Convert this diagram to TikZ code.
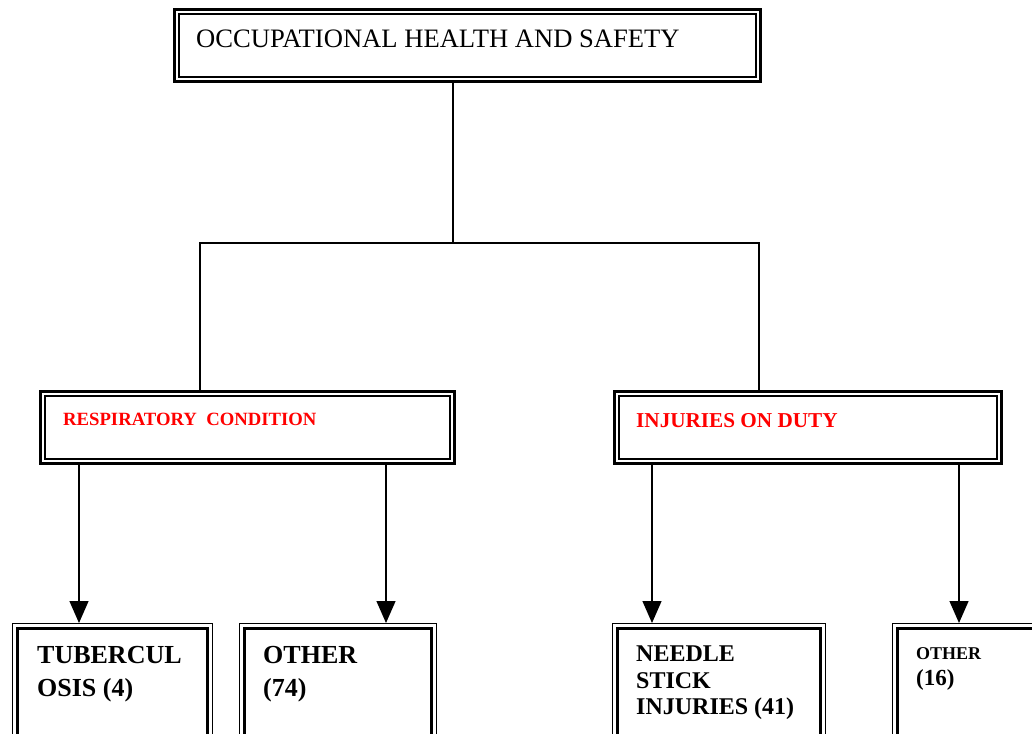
\documentclass[tikz,border=0pt]{standalone}
\usepackage{fontspec}
\setmainfont{Liberation Serif}
\usetikzlibrary{arrows.meta}

\begin{document}
\begin{tikzpicture}[x=1pt,y=-1pt,>={Triangle[width=19pt,length=22pt]},
        boxA/.style={draw,line width=3pt,inner sep=0pt,anchor=north west,
            path picture={\draw[line width=1.8pt] ([xshift=4.6pt,yshift=-4.6pt]path picture bounding box.north west) rectangle ([xshift=-4.6pt,yshift=4.6pt]path picture bounding box.south east);}},
        boxB/.style={draw,line width=1.4pt,inner sep=0pt,anchor=north west,
            path picture={\draw[line width=3pt] ([xshift=5pt,yshift=-5pt]path picture bounding box.north west) rectangle ([xshift=-5pt,yshift=5pt]path picture bounding box.south east);}},
        txt/.style={anchor=north west,inner sep=0pt,align=left}]
                \useasboundingbox (0,0) rectangle (1032,733);
                \clip (0,0) rectangle (1032,733);
                % boxes
                \node[boxA,minimum width=586pt,minimum height=72pt] (ohs) at (173,8) {};
                \node[boxA,minimum width=414pt,minimum height=72pt] (resp) at (39,390) {};
                \node[boxA,minimum width=387pt,minimum height=72pt] (iod) at (613,390) {};
                \node[boxB,minimum width=200pt,minimum height=120pt] (tb) at (12,623) {};
                \node[boxB,minimum width=197pt,minimum height=120pt] (oth1) at (239,623) {};
                \node[boxB,minimum width=213pt,minimum height=120pt] (nsi) at (612,623) {};
                \node[boxB,minimum width=160pt,minimum height=120pt] (oth2) at (892,623) {};
                % texts
                \node[txt,font=\fontsize{26.6}{30}\selectfont] (tohs) at (196,30) {OCCUPATIONAL HEALTH AND SAFETY};
                \node[txt,red,font=\bfseries\fontsize{18.7}{22}\selectfont] (tresp) at (63,413) {RESPIRATORY\ \ CONDITION};
                \node[txt,red,font=\bfseries\fontsize{21.2}{24}\selectfont] (tiod) at (636,413) {INJURIES ON DUTY};
                \node[txt,font=\bfseries\fontsize{26}{33}\selectfont] (ttb) at (37,646) {TUBERCUL\\OSIS (4)};
                \node[txt,font=\bfseries\fontsize{26}{33}\selectfont] (toth1) at (263,646) {OTHER\\(74)};
                \node[txt,font=\bfseries\fontsize{24}{26.5}\selectfont] (tnsi) at (636,646) {NEEDLE\\STICK\\INJURIES (41)};
                \node[txt,font=\bfseries\fontsize{18}{26}\selectfont] (toth2) at (916,647) {OTHER\\\fontsize{23}{26}\selectfont(16)};
                % connectors
                \coordinate (hub) at (453,243);
                \coordinate (jL) at (200,243);
                \coordinate (jR) at (759,243);
                \coordinate (xa) at (79,0);
                \coordinate (xb) at (386,0);
                \coordinate (xc) at (652,0);
                \coordinate (xd) at (959,0);
                \draw[line width=1.3pt] (ohs.south -| hub)--(hub);
                \draw[line width=1.3pt] (resp.north -| jL)--(jL)--(jR)--(iod.north -| jR);
                \draw[->,line width=1.3pt] (resp.south -| xa)--(tb.north -| xa);
                \draw[->,line width=1.3pt] (resp.south -| xb)--(oth1.north -| xb);
                \draw[->,line width=1.3pt] (iod.south -| xc)--(nsi.north -| xc);
                \draw[->,line width=1.3pt] (iod.south -| xd)--(oth2.north -| xd);
            \end{tikzpicture}
\end{document}
